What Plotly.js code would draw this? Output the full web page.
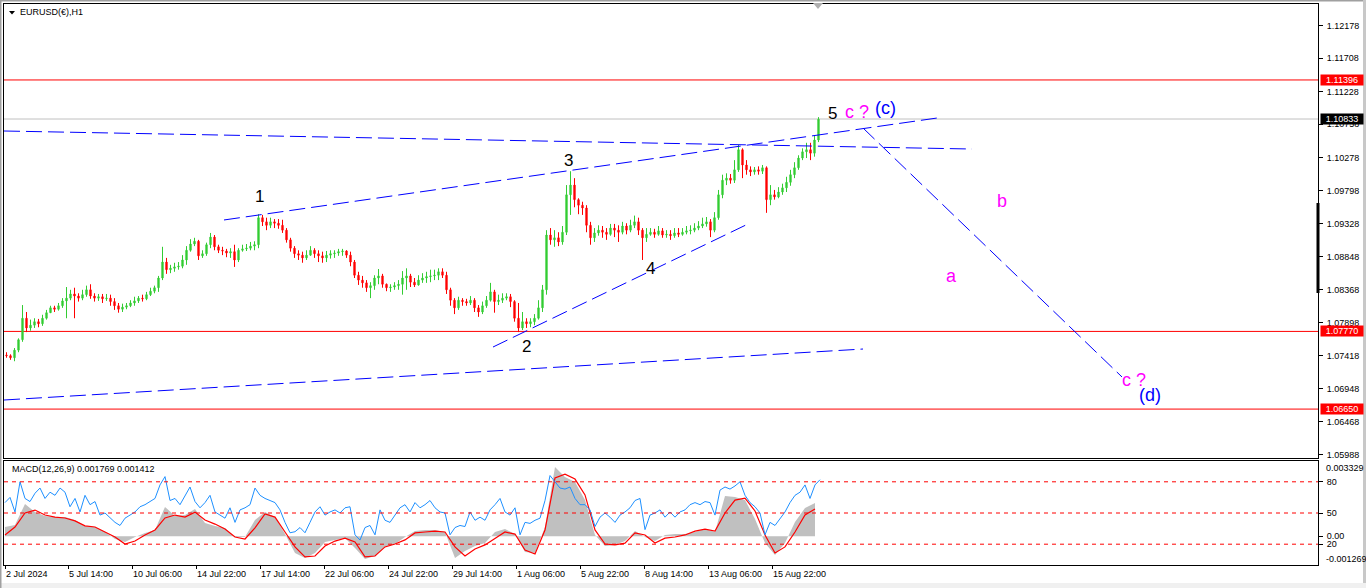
<!DOCTYPE html>
<html><head><meta charset="utf-8">
<script src="https://cdn.plot.ly/plotly-3.0.1.min.js"></script>
<style>html,body{margin:0;padding:0;background:#fff;overflow:hidden}#chart{width:1366px;height:588px}</style>
</head><body><div id="chart"></div>
<script>
// ---- price data: 4-hour candles ----
const candleOpen=[
1.0743,1.0742,1.0739,1.0750,1.0765,1.0796,1.0782,1.0786,1.0791,1.0788,
1.0796,1.0804,1.0811,1.0809,1.0814,1.0821,1.0825,1.0831,1.0828,1.0825,
1.0830,1.0837,1.0828,1.0825,1.0827,1.0824,1.0825,1.0820,1.0814,1.0809,
1.0812,1.0814,1.0818,1.0821,1.0825,1.0824,1.0830,1.0835,1.0840,1.0854,
1.0877,1.0866,1.0868,1.0870,1.0871,1.0880,1.0894,1.0903,1.0907,1.0886,
1.0889,1.0902,1.0913,1.0899,1.0894,1.0893,1.0890,1.0892,1.0880,1.0894,
1.0896,1.0897,1.0900,1.0902,1.0941,1.0935,1.0930,1.0935,1.0933,1.0930,
1.0923,1.0909,1.0897,1.0889,1.0887,1.0883,1.0887,1.0894,1.0889,1.0886,
1.0883,1.0887,1.0889,1.0890,1.0892,1.0893,1.0887,1.0877,1.0858,1.0851,
1.0847,1.0840,1.0843,1.0854,1.0857,1.0845,1.0840,1.0841,1.0843,1.0845,
1.0854,1.0857,1.0848,1.0844,1.0851,1.0854,1.0856,1.0857,1.0858,1.0863,
1.0858,1.0837,1.0822,1.0811,1.0822,1.0820,1.0818,1.0822,1.0811,1.0805,
1.0814,1.0822,1.0834,1.0820,1.0822,1.0825,1.0827,1.0820,1.0796,1.0782,
1.0791,1.0788,1.0791,1.0796,1.0811,1.0837,1.0916,1.0909,1.0912,1.0906,
1.0920,1.0974,1.0988,1.0967,1.0959,1.0955,1.0930,1.0912,1.0919,1.0923,
1.0920,1.0917,1.0926,1.0923,1.0920,1.0929,1.0923,1.0930,1.0935,1.0923,
1.0912,1.0917,1.0920,1.0917,1.0922,1.0916,1.0917,1.0915,1.0919,1.0917,
1.0920,1.0922,1.0923,1.0926,1.0929,1.0932,1.0935,1.0923,1.0941,1.0974,
1.0995,1.0998,1.0995,1.1010,1.1039,1.1017,1.1010,1.1007,1.1010,1.1008,
1.1013,1.0967,1.0974,1.0971,1.0978,1.0984,1.0992,1.1003,1.1013,1.1027,
1.1036,1.1039,1.1034,1.1053];
const candleHigh=[
1.0747,1.0744,1.0753,1.0767,1.0815,1.0805,1.0794,1.0796,1.0795,1.0801,
1.0808,1.0814,1.0814,1.0818,1.0825,1.0841,1.0837,1.0840,1.0832,1.0837,
1.0843,1.0845,1.0832,1.0831,1.0831,1.0831,1.0830,1.0825,1.0818,1.0817,
1.0818,1.0822,1.0827,1.0828,1.0830,1.0834,1.0840,1.0843,1.0857,1.0899,
1.0883,1.0873,1.0876,1.0877,1.0887,1.0900,1.0910,1.0912,1.0909,1.0894,
1.0905,1.0919,1.0916,1.0902,1.0899,1.0896,1.0897,1.0902,1.0897,1.0902,
1.0903,1.0906,1.0907,1.0946,1.0945,1.0941,1.0941,1.0939,1.0939,1.0938,
1.0926,1.0912,1.0900,1.0894,1.0892,1.0894,1.0900,1.0897,1.0894,1.0892,
1.0893,1.0894,1.0894,1.0896,1.0896,1.0894,1.0892,1.0880,1.0863,1.0857,
1.0851,1.0848,1.0858,1.0867,1.0860,1.0846,1.0845,1.0848,1.0851,1.0864,
1.0868,1.0860,1.0854,1.0858,1.0861,1.0863,1.0866,1.0866,1.0868,1.0868,
1.0863,1.0840,1.0825,1.0827,1.0825,1.0824,1.0828,1.0825,1.0815,1.0820,
1.0828,1.0847,1.0837,1.0830,1.0832,1.0832,1.0831,1.0822,1.0818,1.0805,
1.0796,1.0796,1.0802,1.0822,1.0844,1.0923,1.0926,1.0923,1.0920,1.0929,
1.0988,1.1008,1.0998,1.0969,1.0964,1.0959,1.0935,1.0926,1.0930,1.0929,
1.0926,1.0932,1.0932,1.0930,1.0935,1.0933,1.0938,1.0944,1.0941,1.0926,
1.0926,1.0926,1.0925,1.0929,1.0926,1.0923,1.0923,1.0926,1.0926,1.0926,
1.0929,1.0930,1.0933,1.0936,1.0941,1.0942,1.0939,1.0949,1.0981,1.1003,
1.1005,1.1004,1.1024,1.1046,1.1041,1.1024,1.1015,1.1014,1.1015,1.1017,
1.1015,1.0988,1.0981,1.0985,1.0990,1.1000,1.1010,1.1021,1.1031,1.1041,
1.1049,1.1049,1.1060,1.1086];
const candleLow=[
1.0739,1.0736,1.0734,1.0747,1.0762,1.0776,1.0778,1.0782,1.0783,1.0785,
1.0794,1.0805,1.0805,1.0807,1.0811,1.0796,1.0822,1.0796,1.0820,1.0822,
1.0827,1.0824,1.0820,1.0821,1.0818,1.0821,1.0814,1.0808,1.0804,1.0805,
1.0809,1.0812,1.0814,1.0818,1.0820,1.0822,1.0828,1.0832,1.0834,1.0851,
1.0860,1.0861,1.0863,1.0866,1.0868,1.0873,1.0892,1.0900,1.0880,1.0883,
1.0886,1.0897,1.0894,1.0890,1.0887,1.0884,1.0883,1.0870,1.0877,1.0892,
1.0893,1.0894,1.0894,1.0897,1.0929,1.0923,1.0926,1.0926,1.0925,1.0919,
1.0905,1.0892,1.0883,1.0880,1.0876,1.0880,1.0886,1.0883,1.0877,1.0876,
1.0877,1.0882,1.0883,1.0886,1.0886,1.0883,1.0871,1.0854,1.0844,1.0840,
1.0834,1.0825,1.0837,1.0845,1.0840,1.0835,1.0834,1.0837,1.0837,1.0830,
1.0837,1.0841,1.0841,1.0843,1.0847,1.0847,1.0848,1.0851,1.0851,1.0854,
1.0831,1.0814,1.0802,1.0808,1.0814,1.0814,1.0815,1.0805,1.0798,1.0802,
1.0811,1.0820,1.0804,1.0815,1.0818,1.0822,1.0812,1.0791,1.0776,1.0779,
1.0782,1.0783,1.0786,1.0794,1.0805,1.0830,1.0902,1.0899,1.0900,1.0902,
1.0916,1.0945,1.0956,1.0946,1.0945,1.0920,1.0902,1.0906,1.0915,1.0912,
1.0909,1.0915,1.0913,1.0906,1.0917,1.0917,1.0920,1.0926,1.0916,1.0880,
1.0906,1.0915,1.0912,1.0915,1.0912,1.0912,1.0909,1.0912,1.0913,1.0915,
1.0917,1.0917,1.0920,1.0923,1.0926,1.0928,1.0913,1.0920,1.0938,1.0969,
1.0988,1.0990,1.0991,1.1007,1.0998,1.1003,1.1001,1.1003,1.1003,1.1004,
1.0948,1.0959,1.0967,1.0969,1.0974,1.0978,1.0987,1.0998,1.1010,1.1024,
1.1027,1.1024,1.1029,1.1050];
const candleClose=[
1.0742,1.0739,1.0750,1.0765,1.0796,1.0782,1.0786,1.0791,1.0788,1.0796,
1.0804,1.0811,1.0809,1.0814,1.0821,1.0825,1.0831,1.0828,1.0825,1.0830,
1.0837,1.0828,1.0825,1.0827,1.0824,1.0825,1.0820,1.0814,1.0809,1.0812,
1.0814,1.0818,1.0821,1.0825,1.0824,1.0830,1.0835,1.0840,1.0854,1.0877,
1.0866,1.0868,1.0870,1.0871,1.0880,1.0894,1.0903,1.0907,1.0886,1.0889,
1.0902,1.0913,1.0899,1.0894,1.0893,1.0890,1.0892,1.0880,1.0894,1.0896,
1.0897,1.0900,1.0902,1.0941,1.0935,1.0930,1.0935,1.0933,1.0930,1.0923,
1.0909,1.0897,1.0889,1.0887,1.0883,1.0887,1.0894,1.0889,1.0886,1.0883,
1.0887,1.0889,1.0890,1.0892,1.0893,1.0887,1.0877,1.0858,1.0851,1.0847,
1.0840,1.0843,1.0854,1.0857,1.0845,1.0840,1.0841,1.0843,1.0845,1.0854,
1.0857,1.0848,1.0844,1.0851,1.0854,1.0856,1.0857,1.0858,1.0863,1.0858,
1.0837,1.0822,1.0811,1.0822,1.0820,1.0818,1.0822,1.0811,1.0805,1.0814,
1.0822,1.0834,1.0820,1.0822,1.0825,1.0827,1.0820,1.0796,1.0782,1.0791,
1.0788,1.0791,1.0796,1.0811,1.0837,1.0916,1.0909,1.0912,1.0906,1.0920,
1.0974,1.0988,1.0967,1.0959,1.0955,1.0930,1.0912,1.0919,1.0923,1.0920,
1.0917,1.0926,1.0923,1.0920,1.0929,1.0923,1.0930,1.0935,1.0923,1.0912,
1.0917,1.0920,1.0917,1.0922,1.0916,1.0917,1.0915,1.0919,1.0917,1.0920,
1.0922,1.0923,1.0926,1.0929,1.0932,1.0935,1.0923,1.0941,1.0974,1.0995,
1.0998,1.0995,1.1010,1.1039,1.1017,1.1010,1.1007,1.1010,1.1008,1.1013,
1.0967,1.0974,1.0971,1.0978,1.0984,1.0992,1.1003,1.1013,1.1027,1.1036,
1.1039,1.1034,1.1053,1.1083];
const hoursPerCandle=4;

// ---- MACD(12,26,9) panel, sampled every 10 bars ----
const macdStep=10;
const macdMain=[
0.00041,0.00050,0.00143,0.00107,0.00090,0.00085,0.00085,0.00072,0.00046,0.00041,
0.00019,-0.00012,-0.00025,-0.00003,0.00015,0.00028,0.00130,0.00090,0.00094,0.00121,
0.00059,0.00046,0.00037,-0.00003,-0.00003,0.00072,0.00107,0.00085,0.00010,-0.00074,
-0.00096,-0.00074,-0.00025,-0.00016,-0.00008,-0.00052,-0.00100,-0.00087,-0.00047,-0.00034,
-0.00003,0.00023,0.00028,0.00028,0.00019,-0.00096,-0.00065,-0.00043,-0.00030,0.00019,
0.00032,0.00010,-0.00069,-0.00074,0.00041,0.00306,0.00262,0.00240,0.00160,0.00006,
-0.00043,-0.00038,-0.00021,0.00023,-0.00003,-0.00021,0.00006,0.00010,0.00010,0.00019,
0.00032,0.00019,0.00178,0.00174,0.00160,0.00077,-0.00030,-0.00083,-0.00030,0.00063,
0.00125,0.00147];
const macdSignal=[
0.00006,0.00041,0.00103,0.00116,0.00094,0.00085,0.00081,0.00068,0.00046,0.00041,
0.00019,-0.00003,-0.00034,-0.00021,0.00006,0.00028,0.00081,0.00094,0.00085,0.00107,
0.00072,0.00054,0.00032,-0.00003,-0.00012,0.00037,0.00099,0.00085,0.00019,-0.00047,
-0.00091,-0.00087,-0.00043,-0.00021,-0.00008,-0.00025,-0.00091,-0.00087,-0.00047,-0.00034,
-0.00016,0.00015,0.00019,0.00023,0.00019,-0.00047,-0.00087,-0.00056,-0.00038,-0.00008,
0.00019,0.00010,-0.00061,-0.00078,0.00028,0.00258,0.00275,0.00253,0.00183,0.00028,
-0.00034,-0.00038,-0.00030,0.00015,0.00006,-0.00030,-0.00008,-0.00003,0.00006,0.00023,
0.00032,0.00023,0.00103,0.00160,0.00169,0.00112,0.00006,-0.00074,-0.00047,0.00019,
0.00094,0.00121];
const macdMax=0.003329, macdMin=-0.001269;
// ---- oscillator (0-100 scale, levels 20/50/80), sampled every 5 bars ----
const oscStep=5;
const oscValues=[
60,65,51,80,64,61,69,74,64,70,
67,74,70,56,64,51,67,58,61,48,
50,45,41,38,45,48,51,56,58,61,
64,77,85,62,64,58,67,75,61,55,
60,67,51,48,45,55,41,53,55,58,
74,67,64,62,60,53,41,31,32,36,
31,41,51,56,48,51,53,50,55,56,
29,24,36,38,29,53,43,41,48,55,
58,51,60,55,58,62,55,51,50,29,
36,38,37,51,43,46,43,53,58,64,
51,48,55,29,41,40,43,45,62,86,
80,74,73,75,64,58,58,53,37,46,
50,46,41,48,51,55,62,64,34,48,
50,53,46,51,46,51,53,58,60,58,
61,60,48,72,75,73,76,80,67,60,
56,50,29,41,38,45,51,60,67,70,
77,64,77,82];
const oscLevels=[20,50,80];

// ---- horizontal levels ----
const redLevels=[1.11396,1.07770,1.06650];
const lastPrice=1.10833;

// ---- axis ticks ----
const priceTicks=[1.12178,1.11708,1.11228,1.10758,1.10278,1.09798,1.09328,1.08848,1.08368,1.07898,1.07418,1.06948,1.06468,1.05988];
const timeTickBars=[0,63,127,191,255,319,383,447,511,575,639,703,767];
const timeTickLabels=['2 Jul 2024','5 Jul 14:00','10 Jul 06:00','14 Jul 22:00','17 Jul 14:00','22 Jul 06:00','24 Jul 22:00','29 Jul 14:00','1 Aug 06:00','5 Aug 22:00','8 Aug 14:00','13 Aug 06:00','15 Aug 22:00'];

// ---- drawn trend lines (bar index, price) ----
const trendStartBar=[-1,219,488,-1,858];
const trendStartPrice=[1.10660,1.09377,1.07545,1.06781,1.10703];
const trendEndBar=[967,932,745,858,1117];
const trendEndPrice=[1.10400,1.10847,1.09333,1.07516,1.07113];

// ---- wave labels ----
const waveText=['1','2','3','4','5','c ?','(c)','b','a','c ?','(d)'];
const waveBar=[254,521,563,645,827,852,880,997,946,1129,1145];
const wavePrice=[1.09716,1.07556,1.10235,1.08684,1.10912,1.10934,1.10992,1.09651,1.08569,1.07069,1.06853];
const waveColor=['#000','#000','#000','#000','#000','#ff00ff','#0000ff','#ff00ff','#ff00ff','#ff00ff','#0000ff'];

// ---- layout geometry ----
const W=1366,H=588,ML=4,MR=48,MT=4,MB=23;
const PW=W-ML-MR, PH=H-MT-MB;
const px=X=>(X-ML)/PW;
const py=Y=>(H-MB-Y)/PH;
const mainDomain=[py(458),1];
const macdDomain=[0,py(461)];
const FONT='Liberation Sans, Arial, sans-serif';

const candleX=candleOpen.map((_,i)=>i*hoursPerCandle+1.5);
const macdX=macdMain.map((_,i)=>i*macdStep);
const oscX=oscValues.map((_,i)=>i*oscStep);

const traces=[];
traces.push({type:'candlestick',x:candleX,open:candleOpen,high:candleHigh,low:candleLow,close:candleClose,
  xaxis:'x',yaxis:'y',whiskerwidth:0,
  increasing:{line:{color:'#33cc33',width:1},fillcolor:'#33cc33'},
  decreasing:{line:{color:'#ff0000',width:1},fillcolor:'#ff0000'},hoverinfo:'skip'});
for(let i=0;i<trendStartBar.length;i++){
  traces.push({type:'scatter',mode:'lines',x:[trendStartBar[i],trendEndBar[i]],y:[trendStartPrice[i],trendEndPrice[i]],
    xaxis:'x',yaxis:'y',line:{color:'#0000ff',width:1,dash:'16px,6px'},hoverinfo:'skip'});
}
traces.push({type:'scatter',mode:'lines',x:macdX,y:macdMain,xaxis:'x2',yaxis:'y2',fill:'tozeroy',
  fillcolor:'#c0c0c0',line:{color:'rgba(0,0,0,0)',width:0},hoverinfo:'skip'});
traces.push({type:'scatter',mode:'lines',x:macdX,y:macdSignal,xaxis:'x2',yaxis:'y2',
  line:{color:'#ff0000',width:1.2},hoverinfo:'skip'});
traces.push({type:'scatter',mode:'lines',x:oscX,y:oscValues,xaxis:'x2',yaxis:'y3',
  line:{color:'#1e90ff',width:1},hoverinfo:'skip'});

const shapes=[];
redLevels.forEach(v=>shapes.push({type:'line',xref:'paper',x0:0,x1:1,yref:'y',y0:v,y1:v,line:{color:'#ff0000',width:1},layer:'below'}));
shapes.push({type:'line',xref:'paper',x0:0,x1:1,yref:'y',y0:lastPrice,y1:lastPrice,line:{color:'#c0c0c0',width:1},layer:'below'});
oscLevels.forEach(v=>shapes.push({type:'line',xref:'paper',x0:0,x1:1,yref:'y3',y0:v,y1:v,line:{color:'#ff0000',width:1,dash:'4px,4px'}}));
// chart-shift marker and window trim
shapes.push({type:'path',xref:'paper',yref:'paper',path:`M ${px(813)} ${py(3)} L ${px(823)} ${py(3)} L ${px(818)} ${py(9)} Z`,fillcolor:'#b0b0b0',line:{width:0}});
shapes.push({type:'line',xref:'paper',yref:'paper',x0:1,x1:1,y0:py(203),y1:py(293),line:{color:'#000',width:3}});
shapes.push({type:'rect',xref:'paper',yref:'paper',x0:px(0),x1:px(1366),y0:py(583),y1:py(588),fillcolor:'#f0f0f0',line:{width:0}});
shapes.push({type:'rect',xref:'paper',yref:'paper',x0:px(0),x1:px(1.5),y0:py(0),y1:py(588),fillcolor:'#a0a0a0',line:{width:0}});
shapes.push({type:'rect',xref:'paper',yref:'paper',x0:px(0),x1:px(1366),y0:py(0),y1:py(1.5),fillcolor:'#a0a0a0',line:{width:0}});
shapes.push({type:'rect',xref:'paper',yref:'paper',x0:px(1363),x1:px(1366),y0:py(0),y1:py(583),fillcolor:'#c8c8c8',line:{width:0}});

const annotations=[];
for(let i=0;i<waveText.length;i++){
  annotations.push({xref:'x',yref:'y',x:waveBar[i],y:wavePrice[i],text:waveText[i],showarrow:false,
    xanchor:'center',yanchor:'middle',font:{family:FONT,size:i<5?17:18,color:waveColor[i]}});
}
const boxLabel=(v,bg)=>({xref:'paper',yref:'y',x:px(1320),y:v,xanchor:'left',yanchor:'middle',text:v.toFixed(5),
  showarrow:false,bgcolor:bg,borderpad:0,width:42,height:10,align:'center',font:{family:FONT,size:9,color:'#fff'}});
redLevels.forEach(v=>annotations.push(boxLabel(v,'#ff0000')));
annotations.push(boxLabel(lastPrice,'#000000'));
annotations.push({xref:'paper',yref:'paper',x:px(1324),y:py(467.5),xanchor:'left',yanchor:'middle',text:macdMax.toFixed(6),showarrow:false,font:{family:FONT,size:9,color:'#000'}});
annotations.push({xref:'paper',yref:'paper',x:px(1324),y:py(558.5),xanchor:'left',yanchor:'middle',text:macdMin.toFixed(6),showarrow:false,font:{family:FONT,size:9,color:'#000'}});
annotations.push({xref:'paper',yref:'paper',x:px(10),y:py(469),xanchor:'left',yanchor:'middle',text:'MACD(12,26,9) 0.001769 0.001412',showarrow:false,font:{family:FONT,size:9,color:'#000'}});
// title marker triangle
shapes.push({type:'path',xref:'paper',yref:'paper',path:`M ${px(9)} ${py(11)} L ${px(15)} ${py(11)} L ${px(12)} ${py(14.5)} Z`,fillcolor:'#000',line:{width:0}});

const axisBase={showgrid:false,zeroline:false,showline:true,linecolor:'#000',linewidth:1,mirror:true,
  tickfont:{family:FONT,size:9,color:'#000'},tickcolor:'#000'};
const xRange=[-1,PW-1];
const layout={
  width:W,height:H,margin:{l:ML,r:MR,t:MT,b:MB,pad:0},
  paper_bgcolor:'#fff',plot_bgcolor:'#fff',showlegend:false,hovermode:false,boxgap:0.55,
  font:{family:FONT,size:9,color:'#000'},
  title:{text:'EURUSD(€),H1',xref:'container',yref:'container',x:20/W,xanchor:'left',y:1-12/H,yanchor:'middle',font:{family:FONT,size:9,color:'#000'}},
  xaxis:Object.assign({},axisBase,{range:xRange,anchor:'y',showticklabels:false,ticks:'',rangeslider:{visible:false}}),
  xaxis2:Object.assign({},axisBase,{range:xRange,anchor:'y2',matches:'x',tickmode:'array',tickvals:timeTickBars,ticktext:timeTickLabels,
    ticks:'outside',ticklen:3,ticklabelposition:'outside right'}),
  yaxis:Object.assign({},axisBase,{domain:mainDomain,range:[1.059446,1.124913],side:'right',anchor:'x',tickmode:'array',
    tickvals:priceTicks,ticktext:priceTicks.map(v=>v.toFixed(5)),ticks:'outside',ticklen:4,ticklabelstandoff:2}),
  yaxis2:Object.assign({},axisBase,{domain:macdDomain,range:[macdMin,macdMax],side:'right',anchor:'x2',tickmode:'array',
    tickvals:[0],ticktext:['0.00'],ticks:'outside',ticklen:4,ticklabelstandoff:2}),
  yaxis3:{overlaying:'y2',side:'right',anchor:'x2',range:[0,100],showgrid:false,zeroline:false,showline:false,
    tickmode:'array',tickvals:oscLevels,ticktext:oscLevels.map(String),ticks:'outside',ticklen:4,tickcolor:'#000',ticklabelstandoff:2,
    tickfont:{family:FONT,size:9,color:'#000'}},
  shapes:shapes,annotations:annotations
};
Plotly.newPlot('chart',traces,layout,{staticPlot:true,displayModeBar:false});
</script></body></html>
